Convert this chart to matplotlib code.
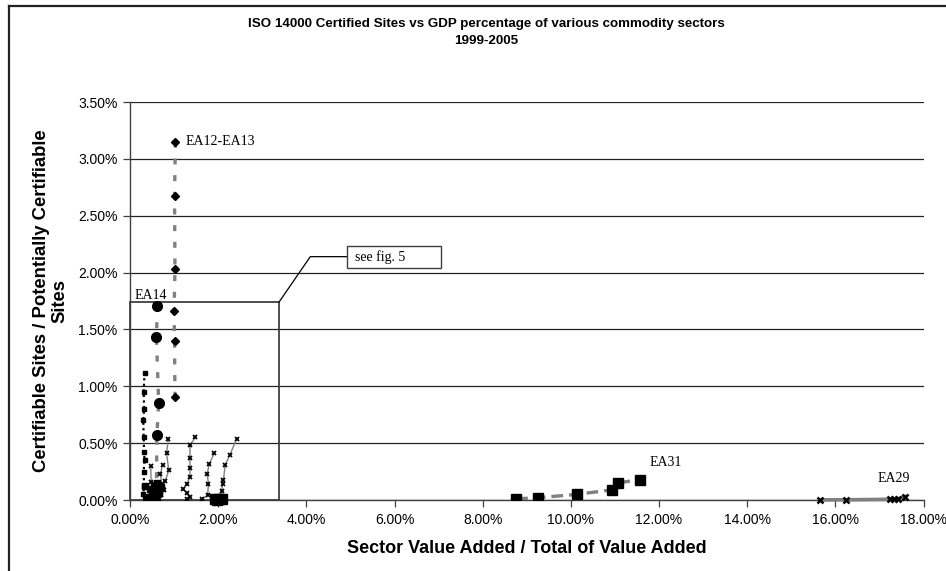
import matplotlib
matplotlib.use("Agg")
import matplotlib.pyplot as plt
from matplotlib.ticker import FuncFormatter
from matplotlib.patches import Rectangle
from matplotlib.lines import Line2D

# ---------------- data (percent units) ----------------
title_line1 = "ISO 14000 Certified Sites vs GDP percentage of various commodity sectors"
title_line2 = "1999-2005"
x_label = "Sector Value Added / Total of Value Added"
y_label = "Certifiable Sites / Potentially Certifiable\nSites"

x_ticks = [0, 2, 4, 6, 8, 10, 12, 14, 16, 18]
y_ticks = [0.0, 0.5, 1.0, 1.5, 2.0, 2.5, 3.0, 3.5]

ea12_x = [1.03, 1.01, 1.02, 1.00, 1.01, 1.02]
ea12_y = [3.15, 2.67, 2.03, 1.66, 1.40, 0.91]

ea14_x = [0.62, 0.60, 0.65, 0.61, 0.60, 0.58]
ea14_y = [1.71, 1.43, 0.85, 0.57, 0.12, 0.05]

dotted_x = [0.33, 0.31, 0.32, 0.30, 0.31, 0.32, 0.33, 0.31, 0.32, 0.30, 0.33]
dotted_y = [1.12, 0.95, 0.80, 0.70, 0.55, 0.42, 0.35, 0.25, 0.12, 0.05, 0.02]

star1_x = [0.47, 0.48, 0.50, 0.45, 0.40]
star1_y = [0.30, 0.16, 0.08, 0.03, 0.01]
star2_x = [0.74, 0.69, 0.72, 0.78, 0.70, 0.65]
star2_y = [0.31, 0.23, 0.14, 0.09, 0.04, 0.01]
star3_x = [0.87, 0.83, 0.88, 0.80, 0.75, 0.68, 0.60]
star3_y = [0.54, 0.41, 0.26, 0.17, 0.10, 0.04, 0.01]
star4_x = [1.48, 1.36, 1.36, 1.36, 1.36, 1.29, 1.21, 1.29, 1.36, 1.29]
star4_y = [0.55, 0.48, 0.37, 0.28, 0.20, 0.14, 0.10, 0.06, 0.03, 0.01]
star5_x = [1.91, 1.80, 1.75, 1.78, 1.76, 1.63]
star5_y = [0.41, 0.32, 0.23, 0.14, 0.04, 0.01]
star6_x = [2.42, 2.27, 2.16, 2.12, 2.10, 2.08, 2.04]
star6_y = [0.54, 0.40, 0.31, 0.18, 0.14, 0.08, 0.02]
cluster1_x = [0.35, 0.45, 0.55, 0.50, 0.60, 0.42, 0.38]
cluster1_y = [0.12, 0.10, 0.13, 0.06, 0.08, 0.03, 0.01]
cluster2_x = [0.55, 0.62, 0.70, 0.66, 0.58, 0.52]
cluster2_y = [0.10, 0.15, 0.11, 0.06, 0.03, 0.01]

sq2_x = [1.92, 1.98, 2.03, 2.08]
sq2_y = [0.005, 0.003, 0.008, 0.012]

ea31_x = [8.76, 9.26, 10.15, 10.94, 11.06, 11.58]
ea31_y = [0.01, 0.02, 0.05, 0.09, 0.15, 0.18]

ea29_x = [15.66, 16.25, 17.24, 17.33, 17.43, 17.58]
ea29_y = [0.001, 0.002, 0.006, 0.008, 0.012, 0.030]

box_x = 3.38
box_y = 1.74

# ---------------- figure ----------------
plt.rcParams['font.family'] = ['Liberation Sans', 'DejaVu Sans']
fig = plt.figure(figsize=(9.46, 5.71), dpi=100)
ax = fig.add_axes([130/946, 71/571, 793.5/946, 398/571])

gray = '#808080'

# EA12-EA13
ax.plot(ea12_x, ea12_y, color=gray, lw=2.4, dashes=(1.8, 3.2),
        marker='D', ms=4.5, mfc='black', mec='black', zorder=4)
# EA14
ax.plot(ea14_x, ea14_y, color=gray, lw=2.4, dashes=(1.8, 3.2),
        marker='o', ms=7, mfc='black', mec='black', zorder=4)
# dotted series
ax.plot(dotted_x, dotted_y, color='black', lw=1.6, linestyle=(0, (1, 1.5)),
        marker='s', ms=2.2, mfc='black', mec='black', zorder=4)
# star series
for sx, sy in [(star1_x, star1_y), (star2_x, star2_y), (star3_x, star3_y),
               (star4_x, star4_y), (star5_x, star5_y), (star6_x, star6_y)]:
    ax.plot(sx, sy, color=gray, lw=1.0, marker='x', ms=3.5, mew=1.3,
            mec='black', zorder=4)
for sx, sy in [(cluster1_x, cluster1_y), (cluster2_x, cluster2_y)]:
    ax.plot(sx, sy, color='black', lw=1.0, marker='s', ms=4, mfc='black',
            mec='black', zorder=4)
# squares near 2%
ax.plot(sq2_x, sq2_y, color=gray, lw=2.0, linestyle='--', marker='s', ms=7,
        mfc='black', mec='black', zorder=4, clip_on=False)
# EA31
ax.plot(ea31_x, ea31_y, color=gray, lw=2.4, dashes=(3.5, 1.8),
        marker='s', ms=6.5, mfc='black', mec='black', zorder=4)
# EA29
ax.plot(ea29_x, ea29_y, color=gray, lw=2.6, marker='x', ms=5, mew=1.8,
        mec='black', zorder=4, clip_on=False)

# labels
serif = dict(family=['Liberation Serif', 'DejaVu Serif'], fontsize=10)
ax.text(1.25, 3.15, "EA12-EA13", ha='left', va='center', **serif)
ax.text(0.1, 1.80, "EA14", ha='left', va='center', **serif)
ax.text(11.78, 0.33, "EA31", ha='left', va='center', **serif)
ax.text(16.95, 0.19, "EA29", ha='left', va='center', **serif)

# see fig. 5 box and callout
ax.add_patch(Rectangle((0, 0), box_x, box_y, fill=False, edgecolor='#404040',
                       lw=1.3, zorder=3, clip_on=False))
ax.plot([box_x, 4.09, 4.93], [box_y, 2.14, 2.14], color='black', lw=0.9,
        zorder=3, clip_on=False)
ax.add_patch(Rectangle((4.93, 2.04), 2.13, 0.195, facecolor='white',
                       edgecolor='#404040', lw=1.0, zorder=5, clip_on=False))
ax.text(5.10, 2.14, "see fig. 5", ha='left', va='center', zorder=6, **serif)

# axes styling
ax.set_xlim(0, 18)
ax.set_ylim(0, 3.5)
ax.set_xticks(x_ticks)
ax.set_yticks(y_ticks)
ax.xaxis.set_major_formatter(FuncFormatter(lambda v, _: f"{v:.2f}%"))
ax.yaxis.set_major_formatter(FuncFormatter(lambda v, _: f"{v:.2f}%"))
ax.yaxis.grid(True, color='#222222', lw=0.9)
ax.set_axisbelow(True)
for s in ['top', 'right']:
    ax.spines[s].set_visible(False)
for s in ['left', 'bottom']:
    ax.spines[s].set_color('#404040')
    ax.spines[s].set_linewidth(1.0)
ax.tick_params(direction='out', length=5, width=0.9, color='#404040',
               labelsize=10, pad=4)

ax.set_xlabel(x_label, fontsize=13, fontweight='bold')
ax.xaxis.set_label_coords(0.5, -0.100)
ax.set_ylabel(y_label, fontsize=13.3, fontweight='bold', linespacing=1.15)
ax.yaxis.set_label_coords(-0.077, 0.5)

fig.text(486/946, 1 - 24/571, title_line1, ha='center', va='center',
         fontsize=9.6, fontweight='bold')
fig.text(486/946, 1 - 41/571, title_line2, ha='center', va='center',
         fontsize=9.6, fontweight='bold')

# outer frame (partially visible)
fig.add_artist(Line2D([9/946, 9/946], [0, 1 - 6/571], transform=fig.transFigure,
                      color='#222222', lw=1.6))
fig.add_artist(Line2D([9/946, 1], [1 - 6/571, 1 - 6/571], transform=fig.transFigure,
                      color='#222222', lw=1.6))

fig.savefig("out.png", dpi=100)
